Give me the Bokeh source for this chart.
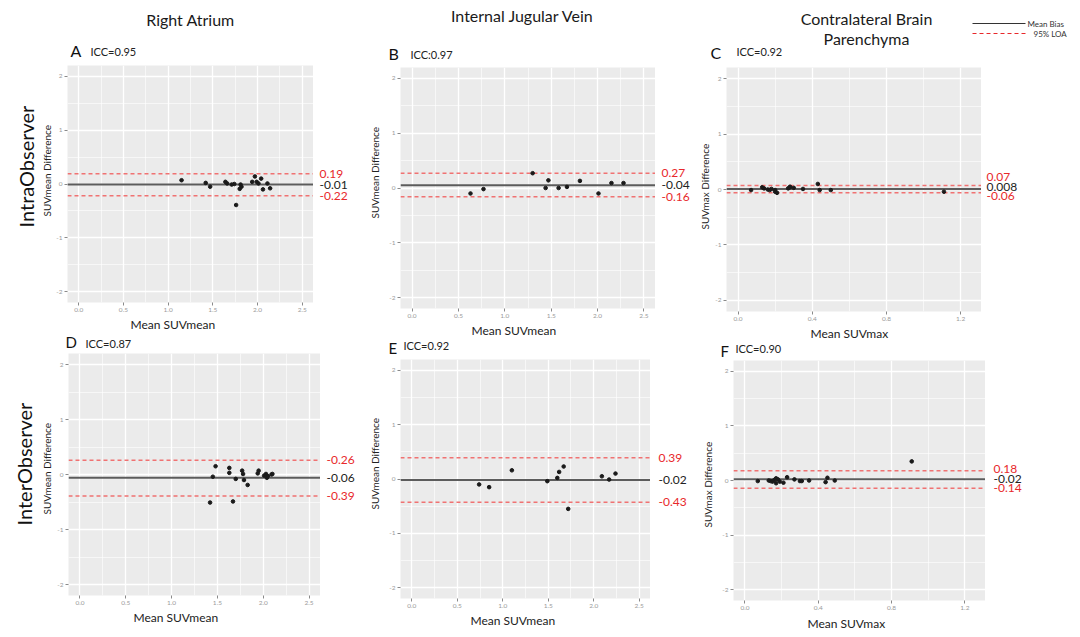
from bokeh.plotting import figure
from bokeh.models import Range1d, FixedTicker, Span, Title, PrintfTickFormatter
from bokeh.layouts import column, row
from bokeh.embed import file_html
from bokeh.resources import INLINE
from bokeh.core.properties import value

# ---------------- data ----------------
col_titles = ["Right Atrium", "Internal Jugular Vein", "Contralateral Brain", "Parenchyma"]
row_labels = ["IntraObserver", "InterObserver"]
legend_labels = ["Mean  Bias", "95% LOA"]
panel_letters = ["A", "B", "C", "D", "E", "F"]
icc_texts = ["ICC=0.95", "ICC:0.97", "ICC=0.92", "ICC=0.87", "ICC=0.92", "ICC=0.90"]
x_labels = ["Mean SUVmean", "Mean SUVmean", "Mean SUVmax", "Mean  SUVmean", "Mean SUVmean", "Mean SUVmax"]
y_labels = ["SUVmean  Difference", "SUVmean  Difference", "SUVmax  Difference",
            "SUVmean  Difference", "SUVmean  Difference", "SUVmax  Difference"]

suvmean_ticks = [0.0, 0.5, 1.0, 1.5, 2.0, 2.5]
suvmean_minor = [0.25, 0.75, 1.25, 1.75, 2.25]
suvmax_ticks = [0.0, 0.4, 0.8, 1.2]
suvmax_minor = [0.2, 0.6, 1.0]
y_ticks = [-2, -1, 0, 1, 2]
y_minor = [-1.5, -0.5, 0.5, 1.5]

a_x = [1.15, 1.42, 1.47, 1.64, 1.66, 1.71, 1.74, 1.76, 1.80, 1.81, 1.82, 1.94, 1.97, 1.99, 2.01, 2.04, 2.06, 2.11, 2.14]
a_y = [0.07, 0.02, -0.05, 0.04, 0.01, -0.01, 0.0, -0.39, -0.09, -0.01, -0.05, 0.04, 0.14, 0.04, 0.01, 0.10, -0.10, 0.01, -0.08]

b_x = [0.63, 0.77, 1.30, 1.44, 1.47, 1.58, 1.67, 1.81, 2.01, 2.15, 2.28]
b_y = [-0.10, -0.02, 0.27, 0.0, 0.14, 0.0, 0.02, 0.13, -0.10, 0.09, 0.09]

c_x = [0.07, 0.13, 0.14, 0.16, 0.17, 0.18, 0.20, 0.20, 0.21, 0.27, 0.28, 0.28, 0.30, 0.35, 0.43, 0.44, 0.50, 1.11]
c_y = [-0.01, 0.04, 0.02, 0.0, -0.01, 0.01, -0.01, -0.04, -0.06, 0.02, 0.05, 0.04, 0.03, 0.01, 0.10, -0.01, -0.01, -0.04]

d_x = [1.42, 1.45, 1.48, 1.63, 1.63, 1.67, 1.70, 1.77, 1.78, 1.79, 1.83, 1.94, 1.95, 2.01, 2.03, 2.04, 2.05, 2.09, 2.10]
d_y = [-0.51, -0.04, 0.15, 0.12, 0.03, -0.49, -0.08, 0.07, 0.01, -0.10, -0.19, 0.02, 0.07, -0.02, 0.01, -0.06, -0.03, 0.0, 0.01]

e_x = [0.74, 0.85, 1.10, 1.49, 1.60, 1.62, 1.67, 1.72, 2.09, 2.17, 2.24]
e_y = [-0.10, -0.15, 0.16, -0.04, 0.02, 0.13, 0.23, -0.55, 0.05, -0.01, 0.10]

f_x = [0.07, 0.13, 0.14, 0.15, 0.16, 0.17, 0.17, 0.18, 0.19, 0.21, 0.23, 0.27, 0.30, 0.31, 0.35, 0.44, 0.45, 0.49, 0.91]
f_y = [-0.01, 0.0, -0.01, -0.02, 0.01, 0.04, -0.05, 0.02, -0.02, -0.04, 0.06, 0.02, -0.01, -0.01, 0.0, -0.03, 0.05, 0.0, 0.35]

bias_vals = [-0.01, 0.05, 0.008, -0.06, -0.02, 0.025]
upper_loa = [0.19, 0.27, 0.07, 0.26, 0.39, 0.18]
lower_loa = [-0.22, -0.16, -0.06, -0.39, -0.43, -0.14]
bias_text = ["-0.01", "-0.04", "0.008", "-0.06", "-0.02", "-0.02"]
upper_text = ["0.19", "0.27", "0.07", "-0.26", "0.39", "0.18"]
lower_text = ["-0.22", "-0.16", "-0.06", "-0.39", "-0.43", "-0.14"]

# ---------------- style ----------------
FONT_NAME = "Lato"
FONT = value(FONT_NAME)
RED = "#e8282b"
LOA_COLOR = "#f07272"
BIAS_COLOR = "#5c5c5c"
DARK = "#222222"

xs_all = [a_x, b_x, c_x, d_x, e_x, f_x]
ys_all = [a_y, b_y, c_y, d_y, e_y, f_y]
is_max = [False, False, True, False, False, True]

# per panel: left border, frame w/h, bottom border, right strip width,
# y title (standoff, offset from frame bottom), x title (standoff, offset from frame left),
# row title (standoff, offset), right-label dx and pixel nudges
specs = [
    dict(lb=67, fw=246, fh=237, bb=30, rw=47, yt=(2, 86), xt=(0, 63), rt=(0, 75), dx=6, dys=(0, 0, 0)),
    dict(lb=37, fw=255, fh=241, bb=30, rw=38, yt=(12, 90), xt=(0, 71), rt=None, dx=6, dys=(0, 0, 0)),
    dict(lb=33, fw=255, fh=244, bb=30, rw=100, yt=(4, 82), xt=(0, 84), rt=None, dx=5, dys=(-9, -2, 3)),
    dict(lb=68, fw=252, fh=242, bb=30, rw=40, yt=(4, 81), xt=(0, 65), rt=(2, 70), dx=6, dys=(0, 0, 0)),
    dict(lb=37, fw=250, fh=239, bb=30, rw=43, yt=(12, 89), xt=(0, 70), rt=None, dx=8, dys=(0, 0, 0)),
    dict(lb=36, fw=252, fh=240, bb=33, rw=100, yt=(12, 73), xt=(3, 74), rt=None, dx=8, dys=(-2, 0, 0)),
]


def side_title(text, size, standoff, offset, color=DARK):
    return Title(text=text, align="left", offset=offset, standoff=standoff,
                 text_font=FONT_NAME, text_font_size=size, text_font_style="normal",
                 text_color=color)


def make_panel(i):
    s = specs[i]
    xr = (-0.0625, 1.3125) if is_max[i] else (-0.125, 2.625)
    yrange = Range1d(-2.2, 2.2)
    p = figure(frame_width=s["fw"], frame_height=s["fh"],
               min_border_left=s["lb"], min_border_right=0,
               min_border_top=0, min_border_bottom=s["bb"],
               x_range=Range1d(*xr), y_range=yrange,
               toolbar_location=None, output_backend="svg")
    p.background_fill_color = "#ebebeb"
    p.border_fill_color = "white"
    p.outline_line_color = None

    xt = suvmax_ticks if is_max[i] else suvmean_ticks
    xm = suvmax_minor if is_max[i] else suvmean_minor
    p.xaxis.ticker = FixedTicker(ticks=xt, minor_ticks=xm)
    p.yaxis.ticker = FixedTicker(ticks=y_ticks, minor_ticks=y_minor)
    p.xaxis.formatter = PrintfTickFormatter(format="%.1f")
    p.yaxis.formatter = PrintfTickFormatter(format="%d")
    for ax in (p.xaxis[0], p.yaxis[0]):
        ax.axis_line_color = None
        ax.major_tick_in = 0
        ax.major_tick_out = 3
        ax.minor_tick_in = 0
        ax.minor_tick_out = 0
        ax.major_tick_line_color = "#8a8a8a"
        ax.major_label_text_font_size = "6.5px"
        ax.major_label_text_color = "#9a9a9a"
        ax.major_label_text_font = FONT_NAME
        ax.major_label_standoff = 2
    for g in (p.xgrid[0], p.ygrid[0]):
        g.grid_line_color = "white"
        g.grid_line_width = 1.3
        g.minor_grid_line_color = "white"
        g.minor_grid_line_width = 0.6

    for val, col, dash, w in ((upper_loa[i], LOA_COLOR, "4 3", 1.5),
                              (lower_loa[i], LOA_COLOR, "4 3", 1.5),
                              (bias_vals[i], BIAS_COLOR, "solid", 2)):
        p.add_layout(Span(location=val, dimension="width", line_color=col, line_dash=dash,
                          line_width=w, level="underlay"))

    p.scatter(xs_all[i], ys_all[i], size=3.6, color="#1a1a1a")

    p.add_layout(side_title(y_labels[i], "10px", s["yt"][0], s["yt"][1]), "left")
    if s["rt"] is not None:
        p.add_layout(side_title(row_labels[0 if i < 3 else 1], "20px", s["rt"][0], s["rt"][1], "#111111"), "left")
    p.add_layout(side_title(x_labels[i], "12px", s["xt"][0], s["xt"][1]), "below")

    # right strip: bias / LOA values, sharing the panel's y scale
    r = figure(frame_width=s["rw"], frame_height=s["fh"], min_border_left=0, min_border_right=0,
               min_border_top=0, min_border_bottom=s["bb"],
               x_range=Range1d(0, s["rw"]), y_range=yrange,
               x_axis_type=None, y_axis_type=None, toolbar_location=None, output_backend="svg")
    r.outline_line_color = None
    r.background_fill_color = "white"
    r.border_fill_color = "white"
    r.text(x=[s["dx"]] * 3, y=[upper_loa[i], bias_vals[i], lower_loa[i]],
           text=[upper_text[i], bias_text[i], lower_text[i]],
           text_color=[RED, DARK, RED], y_offset=list(s["dys"]),
           text_font=FONT, text_font_size="12px", text_align="left", text_baseline="middle")
    return row(p, r, spacing=0)


def strip(w, h):
    f = figure(width=w, height=h, x_range=Range1d(0, w), y_range=Range1d(h, 0),
               x_axis_type=None, y_axis_type=None, toolbar_location=None, output_backend="svg",
               min_border=0, min_border_left=0, min_border_right=0, min_border_top=0, min_border_bottom=0)
    f.outline_line_color = None
    f.background_fill_color = "white"
    f.border_fill_color = "white"
    return f


def letters(f, i, lx, ly, ix, iy, size="16px"):
    f.text(x=[lx], y=[ly], text=[panel_letters[i]], text_font=FONT, text_font_size=size,
           text_align="left", text_baseline="middle", text_color="#111111")
    f.text(x=[ix], y=[iy], text=[icc_texts[i]], text_font=FONT, text_font_size="11px",
           text_align="left", text_baseline="middle", text_color=DARK)


def col_title(f, xs, ys, texts):
    f.text(x=xs, y=ys, text=texts, text_font=FONT, text_font_size="16px",
           text_align="center", text_baseline="middle", text_color="#1a1a1a")


panels = [make_panel(i) for i in range(6)]

# column 1  (x 0-360)
t1 = strip(360, 65)
col_title(t1, [190], [19], col_titles[:1])
letters(t1, 0, 70, 50, 90, 51)
m1 = strip(360, 21)
letters(m1, 3, 65, 9, 85, 11, "15px")

# column 2  (x 360-690)
t2 = strip(330, 67)
col_title(t2, [162], [15], col_titles[1:2])
letters(t2, 1, 28, 53, 50, 54)
m2 = strip(330, 21)
letters(m2, 4, 28, 9, 43, 7, "15px")

# column 3  (x 690-1078): titles + legend
t3 = strip(388, 67)
col_title(t3, [173, 173], [18, 38], col_titles[2:])
t3.line(x=[279, 332], y=[23, 23], line_color="#333333", line_width=1)
t3.line(x=[279, 332], y=[33, 33], line_color=RED, line_width=1.2, line_dash="4 3")
t3.text(x=[334, 340], y=[23, 33], text=legend_labels, text_font=FONT, text_font_size="8px",
        text_align="left", text_baseline="middle", text_color="#333333")
letters(t3, 2, 17, 52, 43, 51)
m3 = strip(388, 19)
letters(m3, 5, 27, 9, 42, 7, "15px")

layout = row(column(t1, panels[0], m1, panels[3], spacing=0),
             column(t2, panels[1], m2, panels[4], spacing=0),
             column(t3, panels[2], m3, panels[5], spacing=0),
             spacing=0)

open("out.html", "w").write(file_html(layout, INLINE))
